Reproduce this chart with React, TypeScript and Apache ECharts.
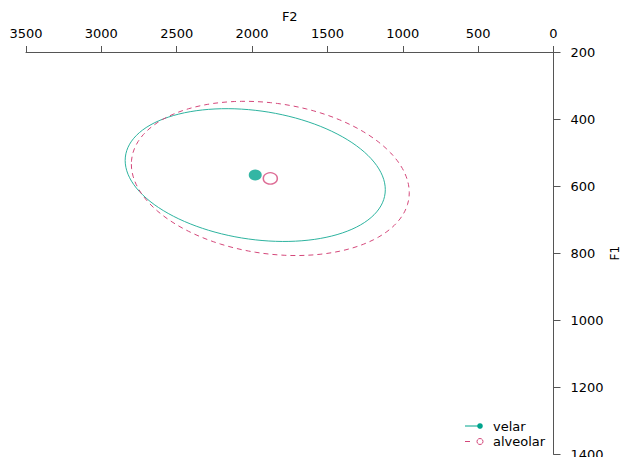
import React, { useEffect, useRef } from "react";
import * as echarts from "echarts";

// Groups and their summary values
const groups = ["velar", "alveolar"];
const meanF2 = [1979, 1879];
const meanF1 = [567, 577];
// half-extent of each data ellipse along F2 and F1, and the F1/F2 correlation
const spreadF2 = [863, 922];
const spreadF1 = [198, 230];
const correlation = [-0.22, -0.185];

// Axis ticks
const f2Ticks = [0, 500, 1000, 1500, 2000, 2500, 3000, 3500];
const f1Ticks = [200, 400, 600, 800, 1000, 1200, 1400];

const colors = ["#00A48D", "#D4477A"];
const FONT = "DejaVu Sans, Liberation Sans, Arial, sans-serif";

function ellipsePoints(i: number, n = 120): number[][] {
  const pts: number[][] = [];
  const r = correlation[i];
  const q = Math.sqrt(1 - r * r);
  for (let k = 0; k <= n; k++) {
    const t = (2 * Math.PI * k) / n;
    const c = Math.cos(t);
    const s = Math.sin(t);
    pts.push([meanF2[i] + spreadF2[i] * c, meanF1[i] + spreadF1[i] * (r * c + q * s)]);
  }
  return pts;
}

export default function App() {
  const ref = useRef<HTMLDivElement>(null);
  useEffect(() => {
    if (!ref.current) return;
    const chart = echarts.init(ref.current, null, { renderer: "svg" });
    const axisColor = "#555";
    const option: any = {
      animation: false,
      backgroundColor: "#fff",
      textStyle: { fontFamily: FONT },
      grid: {
        left: 26,
        right: 67.5,
        top: 52,
        bottom: 2.6,
        containLabel: false,
        outerBoundsMode: "none",
      },
      xAxis: {
        type: "value",
        position: "top",
        inverse: true,
        min: f2Ticks[0],
        max: f2Ticks[f2Ticks.length - 1],
        interval: f2Ticks[1] - f2Ticks[0],
        name: "F2",
        nameLocation: "middle",
        nameGap: 29,
        nameMoveOverlap: false,
        nameTextStyle: { fontSize: 13, color: "#000", fontFamily: FONT },
        axisLine: { show: true, lineStyle: { color: axisColor, width: 1 } },
        axisTick: { show: true, inside: false, length: 6, lineStyle: { color: axisColor } },
        axisLabel: {
          fontSize: 13,
          color: "#000",
          margin: 12,
          fontFamily: FONT,
          formatter: (v: number) => String(v),
        },
        splitLine: { show: false },
      },
      yAxis: {
        type: "value",
        position: "right",
        inverse: true,
        min: f1Ticks[0],
        max: f1Ticks[f1Ticks.length - 1],
        interval: f1Ticks[1] - f1Ticks[0],
        name: "F1",
        nameLocation: "middle",
        nameRotate: 90,
        nameGap: 55,
        nameMoveOverlap: false,
        nameTextStyle: { fontSize: 12, color: "#000", fontFamily: FONT },
        axisLine: { show: true, lineStyle: { color: axisColor, width: 1 } },
        axisTick: { show: true, inside: false, length: 7, lineStyle: { color: axisColor } },
        axisLabel: {
          fontSize: 13,
          color: "#000",
          margin: 17,
          fontFamily: FONT,
          formatter: (v: number) => String(v),
        },
        splitLine: { show: false },
      },
      series: [
        {
          name: groups[0] + " ellipse",
          type: "line",
          data: ellipsePoints(0),
          showSymbol: false,
          symbol: "none",
          lineStyle: { color: "#2DB39F", width: 1 },
          silent: true,
        },
        {
          name: groups[1] + " ellipse",
          type: "line",
          data: ellipsePoints(1),
          showSymbol: false,
          symbol: "none",
          lineStyle: { color: colors[1], width: 1, type: [5, 4] },
          silent: true,
        },
        {
          name: groups[0],
          type: "scatter",
          data: [[meanF2[0], meanF1[0]]],
          symbol: "circle",
          symbolSize: [13, 11],
          itemStyle: { color: colors[0] },
        },
        {
          name: groups[1],
          type: "scatter",
          data: [[meanF2[1], meanF1[1]]],
          symbol: "circle",
          symbolSize: [14, 11.5],
          itemStyle: { color: "rgba(255,255,255,0)", borderColor: colors[1], borderWidth: 1.4 },
        },
      ],
      graphic: [
        { type: "line", shape: { x1: 465, y1: 426, x2: 479, y2: 426 }, style: { stroke: colors[0], lineWidth: 1 } },
        { type: "circle", shape: { cx: 480, cy: 426, r: 2.8 }, style: { fill: colors[0] } },
        { type: "text", x: 493, y: 426, style: { text: groups[0], fontSize: 13, fontFamily: FONT, fill: "#000", verticalAlign: "middle", align: "left" } },
        { type: "line", shape: { x1: 465, y1: 441.5, x2: 478, y2: 441.5 }, style: { stroke: colors[1], lineWidth: 1, lineDash: [5, 9] } },
        { type: "circle", shape: { cx: 480, cy: 441.5, r: 3 }, style: { fill: "none", stroke: colors[1], lineWidth: 1 } },
        { type: "text", x: 493, y: 441.5, style: { text: groups[1], fontSize: 13, fontFamily: FONT, fill: "#000", verticalAlign: "middle", align: "left" } },
      ],
    };
    chart.setOption(option);
    return () => chart.dispose();
  }, []);
  return (
    <div
      ref={ref}
      style={{ position: "absolute", left: 0, top: 0, width: 621, height: 457 }}
    />
  );
}
